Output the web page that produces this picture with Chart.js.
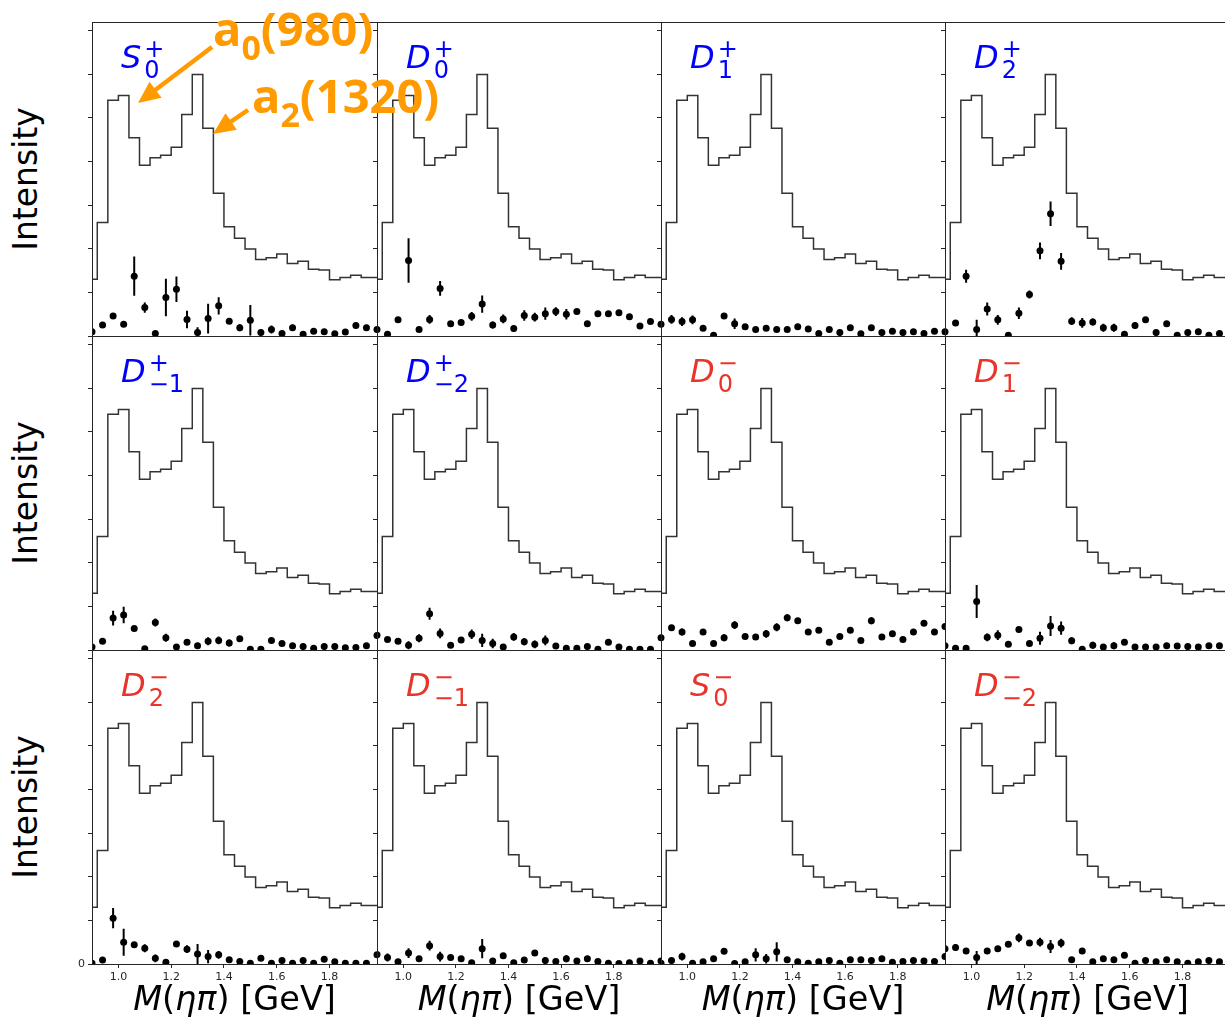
<!DOCTYPE html>
<html lang="en">
<head>
    <meta charset="UTF-8">
    <title>Partial-wave intensities in M(ηπ)</title>
    <script src="https://cdn.jsdelivr.net/npm/chart.js"></script>
    <style>
        html, body { margin: 0; padding: 0; background: #fff; }
        body { width: 1225px; height: 1020px; overflow: hidden; position: relative; font-family: "DejaVu Sans", sans-serif; }
        .panel { position: absolute; }
        .panel canvas { display: block; }
        .wave-title { position: absolute; font: italic 32px "DejaVu Sans"; line-height: 32px; white-space: nowrap; }
        .wave-title .scripts { position: relative; display: inline-block; width: 40px; height: 1px; margin-left: 3px; }
        .wave-title .sup, .wave-title .sub { position: absolute; left: 0; font: normal 24px "DejaVu Sans"; line-height: 24px; }
        .wave-title .sup { top: -30px; }
        .wave-title .sub { top: -9px; }
        .ylabel { position: absolute; font: 33px "DejaVu Sans"; line-height: 33px; white-space: nowrap; transform: translate(-50%, -50%) rotate(-90deg); color: #000; }
        .xlabel { position: absolute; font: 33.5px "DejaVu Sans"; line-height: 33.5px; white-space: nowrap; transform: translateX(-50%); color: #000; }
        .anno { position: absolute; font: bold 47px "Open Sans"; line-height: 47px; color: #ff9a00; white-space: nowrap; z-index: 5; }
        .anno .low { font-size: 34px; position: relative; top: 14px; }
        #arrows { position: absolute; left: 0; top: 0; z-index: 5; }
    </style>
</head>
<body>
    <div id="figure"></div>
    <svg id="arrows" width="1225" height="1020"></svg>
    <script>
    // bin centres of M(eta pi) in GeV
    const massBins = [0.90, 0.94, 0.98, 1.02, 1.06, 1.10, 1.14, 1.18, 1.22, 1.26, 1.30, 1.34, 1.38, 1.42,
                      1.46, 1.50, 1.54, 1.58, 1.62, 1.66, 1.70, 1.74, 1.78, 1.82, 1.86, 1.90, 1.94, 1.98];
    // total intensity (same histogram in every panel)
    const totalIntensity = [1.30, 2.60, 5.40, 5.51, 4.54, 3.91, 4.08, 4.14, 4.32, 5.07, 5.99, 4.76, 3.27, 2.50,
                            2.24, 1.99, 1.75, 1.79, 1.88, 1.66, 1.71, 1.53, 1.51, 1.29, 1.34, 1.39, 1.34, 1.34];
    const xTicks = [1.0, 1.2, 1.4, 1.6, 1.8];
    const yTicks = [0, 1, 2, 3, 4, 5, 6, 7];

    // partial waves, value and error per bin
    const S0plus = [0.10, 0.25, 0.46, 0.27, 1.37, 0.65, 0.06, 0.88, 1.07, 0.38, 0.08, 0.40, 0.69, 0.34, 0.19, 0.36, 0.08, 0.15, 0.06, 0.19, 0.04, 0.11, 0.10, 0.05, 0.09, 0.24, 0.19, 0.15];
    const S0plusErr = [0.03, 0.04, 0.05, 0.05, 0.45, 0.12, 0.05, 0.43, 0.29, 0.20, 0.12, 0.34, 0.20, 0.05, 0.08, 0.35, 0.04, 0.09, 0.03, 0.07, 0.03, 0.04, 0.03, 0.03, 0.04, 0.05, 0.07, 0.05];
    const D0plus = [0.15, 0.04, 0.37, 1.73, 0.15, 0.38, 1.09, 0.28, 0.31, 0.45, 0.73, 0.25, 0.39, 0.17, 0.47, 0.43, 0.51, 0.56, 0.50, 0.56, 0.28, 0.51, 0.51, 0.53, 0.44, 0.23, 0.33, 0.27];
    const D0plusErr = [0.05, 0.03, 0.05, 0.51, 0.05, 0.10, 0.17, 0.05, 0.05, 0.10, 0.20, 0.08, 0.10, 0.07, 0.12, 0.10, 0.14, 0.10, 0.12, 0.06, 0.05, 0.05, 0.05, 0.05, 0.05, 0.05, 0.05, 0.05];
    const D1plus = [0.27, 0.38, 0.33, 0.37, 0.18, 0.02, 0.46, 0.28, 0.21, 0.15, 0.18, 0.15, 0.15, 0.21, 0.16, 0.06, 0.15, 0.08, 0.19, 0.05, 0.19, 0.08, 0.11, 0.08, 0.10, 0.06, 0.11, 0.10];
    const D1plusErr = [0.04, 0.10, 0.10, 0.10, 0.04, 0.03, 0.05, 0.12, 0.04, 0.04, 0.06, 0.04, 0.04, 0.04, 0.04, 0.03, 0.04, 0.03, 0.04, 0.03, 0.04, 0.03, 0.03, 0.03, 0.03, 0.03, 0.03, 0.03];
    const D2plus = [0.10, 0.30, 1.37, 0.15, 0.62, 0.37, 0.02, 0.52, 0.95, 1.95, 2.80, 1.71, 0.34, 0.30, 0.32, 0.19, 0.19, 0.04, 0.24, 0.37, 0.08, 0.28, 0.02, 0.08, 0.10, 0.02, 0.06, 0.06];
    const D2plusErr = [0.04, 0.05, 0.15, 0.22, 0.15, 0.11, 0.03, 0.13, 0.09, 0.19, 0.28, 0.19, 0.09, 0.11, 0.08, 0.09, 0.09, 0.03, 0.08, 0.05, 0.03, 0.05, 0.03, 0.03, 0.03, 0.03, 0.03, 0.03];
    const Dm1plus = [0.07, 0.20, 0.73, 0.80, 0.49, 0.03, 0.63, 0.28, 0.07, 0.18, 0.10, 0.20, 0.22, 0.16, 0.26, 0.02, 0.02, 0.22, 0.15, 0.10, 0.08, 0.04, 0.08, 0.08, 0.05, 0.06, 0.10, 0.33];
    const Dm1plusErr = [0.03, 0.04, 0.17, 0.19, 0.05, 0.03, 0.09, 0.09, 0.03, 0.04, 0.04, 0.09, 0.09, 0.08, 0.04, 0.03, 0.03, 0.04, 0.04, 0.04, 0.03, 0.03, 0.03, 0.03, 0.03, 0.03, 0.04, 0.05];
    const Dm2plus = [0.34, 0.24, 0.20, 0.11, 0.27, 0.83, 0.38, 0.11, 0.23, 0.36, 0.22, 0.15, 0.07, 0.30, 0.19, 0.13, 0.22, 0.09, 0.04, 0.04, 0.08, 0.02, 0.18, 0.07, 0.02, 0.02, 0.02, 0.28];
    const Dm2plusErr = [0.05, 0.04, 0.04, 0.09, 0.09, 0.14, 0.11, 0.04, 0.04, 0.11, 0.15, 0.11, 0.03, 0.09, 0.08, 0.09, 0.11, 0.03, 0.03, 0.03, 0.03, 0.03, 0.04, 0.03, 0.03, 0.03, 0.03, 0.05];
    const D0minus = [0.28, 0.51, 0.41, 0.15, 0.41, 0.15, 0.28, 0.57, 0.31, 0.30, 0.37, 0.52, 0.74, 0.67, 0.41, 0.45, 0.18, 0.31, 0.45, 0.22, 0.67, 0.30, 0.37, 0.24, 0.41, 0.61, 0.41, 0.54];
    const D0minusErr = [0.05, 0.05, 0.08, 0.04, 0.05, 0.04, 0.08, 0.09, 0.05, 0.05, 0.09, 0.09, 0.08, 0.05, 0.05, 0.05, 0.04, 0.05, 0.05, 0.04, 0.08, 0.05, 0.05, 0.04, 0.05, 0.05, 0.05, 0.05];
    const D1minus = [0.10, 0.04, 0.04, 1.11, 0.29, 0.34, 0.13, 0.47, 0.15, 0.27, 0.55, 0.50, 0.21, 0.02, 0.11, 0.07, 0.10, 0.18, 0.07, 0.07, 0.07, 0.10, 0.09, 0.08, 0.07, 0.10, 0.10, 0.09];
    const D1minusErr = [0.04, 0.03, 0.03, 0.38, 0.09, 0.11, 0.04, 0.05, 0.04, 0.15, 0.23, 0.15, 0.08, 0.03, 0.08, 0.03, 0.08, 0.04, 0.03, 0.03, 0.03, 0.03, 0.03, 0.03, 0.03, 0.03, 0.03, 0.03];
    const D2minus = [0.02, 0.09, 1.05, 0.50, 0.44, 0.36, 0.13, 0.04, 0.46, 0.34, 0.23, 0.17, 0.21, 0.10, 0.06, 0.02, 0.13, 0.02, 0.08, 0.02, 0.08, 0.02, 0.11, 0.05, 0.02, 0.02, 0.02, 0.21];
    const D2minusErr = [0.03, 0.04, 0.23, 0.31, 0.05, 0.09, 0.09, 0.03, 0.05, 0.09, 0.23, 0.15, 0.09, 0.03, 0.03, 0.03, 0.03, 0.03, 0.03, 0.03, 0.03, 0.03, 0.03, 0.03, 0.03, 0.03, 0.03, 0.04];
    const Dm1minus = [0.22, 0.15, 0.05, 0.25, 0.12, 0.42, 0.17, 0.15, 0.12, 0.03, 0.35, 0.07, 0.19, 0.03, 0.09, 0.25, 0.08, 0.06, 0.12, 0.07, 0.12, 0.06, 0.02, 0.01, 0.03, 0.07, 0.02, 0.07];
    const Dm1minusErr = [0.04, 0.09, 0.03, 0.11, 0.04, 0.11, 0.11, 0.04, 0.04, 0.03, 0.22, 0.03, 0.04, 0.03, 0.04, 0.04, 0.08, 0.03, 0.08, 0.03, 0.03, 0.03, 0.03, 0.03, 0.03, 0.03, 0.03, 0.03];
    const S0minus = [0.02, 0.08, 0.17, 0.02, 0.05, 0.12, 0.29, 0.01, 0.05, 0.21, 0.12, 0.28, 0.10, 0.05, 0.02, 0.05, 0.08, 0.02, 0.10, 0.10, 0.08, 0.12, 0.04, 0.06, 0.08, 0.07, 0.06, 0.17];
    const S0minusErr = [0.03, 0.03, 0.09, 0.03, 0.03, 0.04, 0.04, 0.03, 0.03, 0.15, 0.11, 0.22, 0.04, 0.03, 0.03, 0.03, 0.03, 0.03, 0.03, 0.03, 0.03, 0.03, 0.03, 0.03, 0.03, 0.03, 0.03, 0.04];
    const Dm2minus = [0.35, 0.38, 0.30, 0.15, 0.30, 0.35, 0.45, 0.60, 0.48, 0.50, 0.40, 0.48, 0.10, 0.30, 0.05, 0.12, 0.10, 0.20, 0.02, 0.08, 0.05, 0.10, 0.05, 0.02, 0.05, 0.08, 0.05, 0.05];
    const Dm2minusErr = [0.04, 0.08, 0.05, 0.15, 0.05, 0.05, 0.06, 0.10, 0.06, 0.10, 0.15, 0.10, 0.05, 0.05, 0.03, 0.03, 0.03, 0.05, 0.03, 0.03, 0.03, 0.03, 0.03, 0.03, 0.03, 0.03, 0.03, 0.03];

    const BLUE = '#0000ff';
    const RED = '#e8342a';
    const ORANGE = '#ff9a00';

    const waves = [
        { base: 'S', sub: '0',  sup: '+', color: BLUE, values: S0plus,   errors: S0plusErr },
        { base: 'D', sub: '0',  sup: '+', color: BLUE, values: D0plus,   errors: D0plusErr },
        { base: 'D', sub: '1',  sup: '+', color: BLUE, values: D1plus,   errors: D1plusErr },
        { base: 'D', sub: '2',  sup: '+', color: BLUE, values: D2plus,   errors: D2plusErr },
        { base: 'D', sub: '\u22121', sup: '+', color: BLUE, values: Dm1plus, errors: Dm1plusErr },
        { base: 'D', sub: '\u22122', sup: '+', color: BLUE, values: Dm2plus, errors: Dm2plusErr },
        { base: 'D', sub: '0',  sup: '\u2212', color: RED, values: D0minus, errors: D0minusErr },
        { base: 'D', sub: '1',  sup: '\u2212', color: RED, values: D1minus, errors: D1minusErr },
        { base: 'D', sub: '2',  sup: '\u2212', color: RED, values: D2minus, errors: D2minusErr },
        { base: 'D', sub: '\u22121', sup: '\u2212', color: RED, values: Dm1minus, errors: Dm1minusErr },
        { base: 'S', sub: '0',  sup: '\u2212', color: RED, values: S0minus, errors: S0minusErr },
        { base: 'D', sub: '\u22122', sup: '\u2212', color: RED, values: Dm2minus, errors: Dm2minusErr }
    ];

    // panel grid (pixels)
    const colLeft = [92, 377, 661, 945];
    const colRight = [377, 661, 945, 1230];
    const rowTop = [22, 336, 650];
    const rowBottom = [336, 650, 964];
    const AXIS_W = 40, AXIS_H = 34, PAD = 6;
    const INK = '#262626';

    Chart.defaults.font.family = '"DejaVu Sans", sans-serif';

    // box around each panel
    const framePlugin = {
        id: 'panelFrame',
        afterDraw(chart) {
            const { ctx, chartArea: a } = chart;
            ctx.save();
            ctx.strokeStyle = INK;
            ctx.lineWidth = 1;
            ctx.strokeRect(Math.round(a.left) + 0.5, Math.round(a.top) + 0.5,
                           Math.round(a.right - a.left), Math.round(a.bottom - a.top));
            ctx.restore();
        }
    };

    const fig = document.getElementById('figure');

    waves.forEach(function(w, k) {
        const r = Math.floor(k / 4), c = k % 4;
        const pw = colRight[c] - colLeft[c];
        const ph = rowBottom[r] - rowTop[r];
        const cw = pw + AXIS_W + PAD;
        const ch = ph + PAD + AXIS_H;

        const wrap = document.createElement('div');
        wrap.className = 'panel';
        wrap.style.left = (colLeft[c] - AXIS_W) + 'px';
        wrap.style.top = (rowTop[r] - PAD) + 'px';
        wrap.style.width = cw + 'px';
        wrap.style.height = ch + 'px';
        const canvas = document.createElement('canvas');
        canvas.width = cw;
        canvas.height = ch;
        canvas.style.width = cw + 'px';
        canvas.style.height = ch + 'px';
        wrap.appendChild(canvas);
        fig.appendChild(wrap);

        const bottomRow = r === 2;
        const points = massBins.map((m, i) => ({ x: m, y: w.values[i] }));
        const errorBars = [];
        massBins.forEach((m, i) => {
            errorBars.push({ x: m, y: w.values[i] - w.errors[i] });
            errorBars.push({ x: m, y: w.values[i] + w.errors[i] });
            errorBars.push({ x: m, y: null });
        });
        const hist = massBins.map((m, i) => ({ x: m, y: totalIntensity[i] }));

        const chart = new Chart(canvas.getContext('2d'), {
            type: 'line',
            data: {
                datasets: [
                    {
                        label: 'fit',
                        data: points,
                        showLine: false,
                        pointRadius: 3.5,
                        pointBackgroundColor: '#000',
                        pointBorderWidth: 0
                    },
                    {
                        label: 'errors',
                        data: errorBars,
                        borderColor: '#000',
                        borderWidth: 2,
                        pointRadius: 0,
                        spanGaps: false
                    },
                    {
                        label: 'total',
                        data: hist,
                        stepped: 'middle',
                        borderColor: '#333',
                        borderWidth: 1.5,
                        pointRadius: 0,
                        fill: false
                    }
                ]
            },
            options: {
                responsive: false,
                maintainAspectRatio: false,
                animation: false,
                events: [],
                devicePixelRatio: 1,
                layout: { padding: { top: PAD, right: PAD, left: 0, bottom: 0 } },
                plugins: { legend: { display: false }, tooltip: { enabled: false } },
                scales: {
                    x: {
                        type: 'linear',
                        min: 0.9,
                        max: 1.98,
                        afterFit: s => { s.height = AXIS_H; },
                        afterBuildTicks: s => { s.ticks = xTicks.map(v => ({ value: v })); },
                        border: { display: false },
                        grid: { drawOnChartArea: false, drawTicks: bottomRow, tickLength: 4, color: INK },
                        ticks: {
                            display: bottomRow,
                            autoSkip: false,
                            maxRotation: 0,
                            padding: 3,
                            color: INK,
                            font: { size: 11 },
                            callback: v => v.toFixed(1)
                        }
                    },
                    y: {
                        min: 0,
                        max: 7.2,
                        afterFit: s => { s.width = AXIS_W; },
                        afterBuildTicks: s => { s.ticks = yTicks.map(v => ({ value: v })); },
                        border: { display: false },
                        grid: { drawOnChartArea: false, drawTicks: true, tickLength: 4, color: INK },
                        ticks: {
                            padding: 3,
                            color: INK,
                            font: { size: 11 },
                            callback: v => (k === 8 && v === 0) ? '0' : ''
                        }
                    }
                }
            },
            plugins: [framePlugin]
        });

        // the scales may take a few more pixels than asked: move and resize the canvas
        // so that the plot area lands exactly on the panel
        const a = chart.chartArea;
        const mL = Math.round(a.left), mT = Math.round(a.top);
        const mR = cw - Math.round(a.right), mB = ch - Math.round(a.bottom);
        const nw = pw + mL + mR, nh = ph + mT + mB;
        wrap.style.left = (colLeft[c] - mL) + 'px';
        wrap.style.top = (rowTop[r] - mT) + 'px';
        wrap.style.width = nw + 'px';
        wrap.style.height = nh + 'px';
        if (nw !== cw || nh !== ch) {
            chart.resize(nw, nh);
        }

        // wave name, e.g. D with sub -1 and sup +
        const t = document.createElement('div');
        t.className = 'wave-title';
        t.style.color = w.color;
        t.style.left = (colLeft[c] + 29) + 'px';
        t.style.top = (rowTop[r] + 46 - 27) + 'px';
        t.innerHTML = '<span>' + w.base + '</span><span class="scripts"><span class="sup">' + w.sup +
                      '</span><span class="sub">' + w.sub + '</span></span>';
        document.body.appendChild(t);
    });

    // axis labels
    rowTop.forEach(function(top, r) {
        const d = document.createElement('div');
        d.className = 'ylabel';
        d.textContent = 'Intensity';
        d.style.left = '25px';
        d.style.top = ((top + rowBottom[r]) / 2) + 'px';
        document.body.appendChild(d);
    });
    colLeft.forEach(function(left, c) {
        const d = document.createElement('div');
        d.className = 'xlabel';
        d.innerHTML = '<i>M</i>(<i>ηπ</i>) [GeV]';
        d.style.left = ((left + colRight[c]) / 2) + 'px';
        d.style.top = '982px';
        document.body.appendChild(d);
    });

    // resonance annotations
    function addAnno(html, left, baseline) {
        const d = document.createElement('div');
        d.className = 'anno';
        d.innerHTML = html;
        d.style.left = left + 'px';
        d.style.top = (baseline - 42) + 'px';
        document.body.appendChild(d);
    }
    addAnno('a<span class="low">0</span>(980)', 213, 47);
    addAnno('a<span class="low">2</span>(1320)', 252, 114);

    function arrow(x1, y1, x2, y2) {
        const dx = x2 - x1, dy = y2 - y1;
        const len = Math.hypot(dx, dy);
        const ux = dx / len, uy = dy / len;
        const hl = 22, hw = 10;
        const bx = x2 - ux * hl, by = y2 - uy * hl;
        const p1 = (bx - uy * hw) + ',' + (by + ux * hw);
        const p2 = (bx + uy * hw) + ',' + (by - ux * hw);
        return '<line x1="' + x1 + '" y1="' + y1 + '" x2="' + (bx + ux * 2) + '" y2="' + (by + uy * 2) +
               '" stroke="' + ORANGE + '" stroke-width="4.5"/>' +
               '<polygon points="' + x2 + ',' + y2 + ' ' + p1 + ' ' + p2 + '" fill="' + ORANGE + '"/>';
    }
    document.getElementById('arrows').innerHTML = arrow(212, 47, 138, 103) + arrow(248, 110, 213, 134);
    </script>
</body>
</html>
